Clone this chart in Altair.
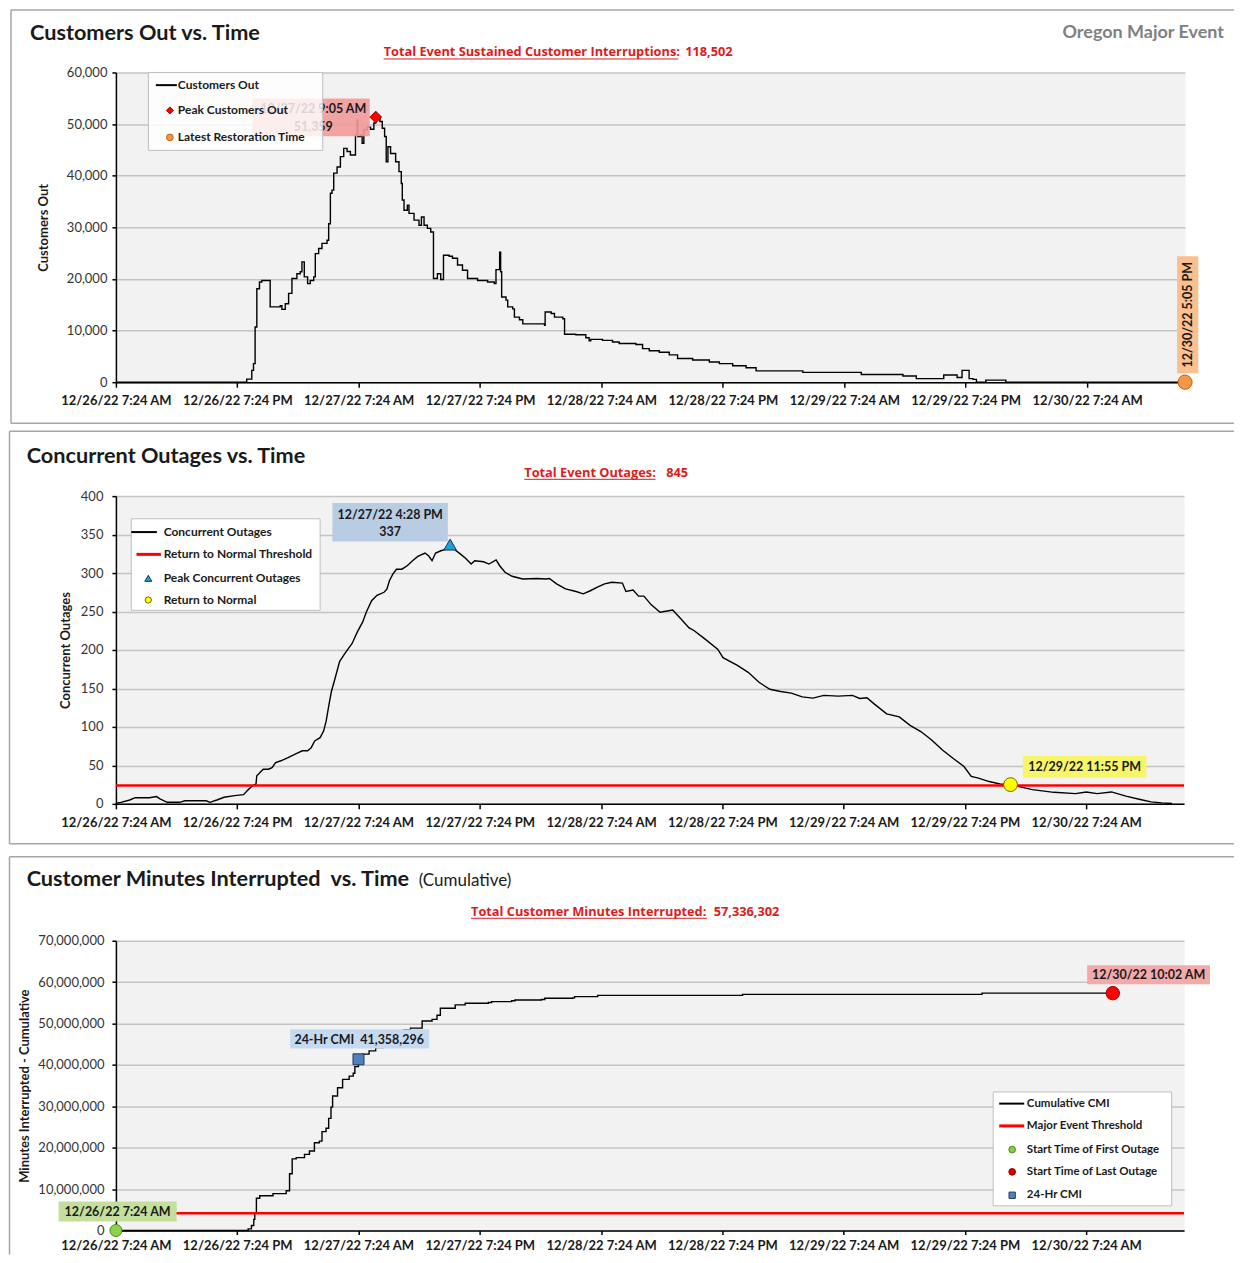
import altair as alt
import pandas as pd

FONT = "Lato"
SUB_FONT = "Open Sans"
SUB_SIZE = 12.8
RED_TEXT = "#dc1c1c"
FRAME = "#a6a6a6"
GRID = "#c4c4c4"
TFMT = "%m/%d/%y %-I:%M %p"
NBSP = "\u00a0"

EVENT_START = "2022-12-26 07:24"
AXIS_END = "2022-12-30 17:05"
TICK_STEP_HOURS = 12
TICK_COUNT = 9

# (hours after 12/26/22 7:24 AM, customers out)
CUSTOMERS_OUT = [
    (0, 0), (12.6, 0), (12.93, 600), (13.43, 2300), (13.6, 3600), (13.76, 10700),
    (13.93, 18100), (14.19, 19400), (14.42, 19700), (15.18, 19700), (15.25, 14600),
    (16.24, 14800), (16.41, 14100), (16.74, 15200), (17.07, 17200), (17.4, 20100),
    (17.89, 21000), (18.22, 21400), (18.39, 23300), (18.62, 20400), (18.95, 19100),
    (19.21, 19700), (19.55, 20400), (19.71, 24900), (20.04, 25900), (20.37, 26900),
    (20.87, 27500), (21.03, 30700), (21.2, 36600), (21.36, 37200), (21.53, 40500),
    (21.86, 41700), (22.19, 43700), (22.52, 45300), (22.85, 44700), (23.18, 44000),
    (23.58, 44000), (23.68, 47900), (23.85, 50800), (23.91, 47600), (24.18, 47900),
    (24.34, 46300), (24.51, 48900), (24.84, 49400), (25.17, 49000), (25.5, 50200),
    (25.68, 51359), (26.1, 50500), (26.33, 49200), (26.56, 47600), (26.72, 42700),
    (26.89, 45600), (27.15, 44300), (27.65, 42700), (27.98, 40800), (28.21, 38500),
    (28.31, 35300), (28.48, 33300), (28.81, 34300), (28.97, 32700), (29.47, 31400),
    (29.96, 30400), (30.2, 32000), (30.46, 30400), (30.79, 29800), (31.12, 29100),
    (31.39, 20100), (31.78, 21000), (32.11, 19900), (32.38, 24600), (32.94, 24400),
    (33.27, 24000), (33.77, 22700), (34.26, 21700), (34.76, 20100), (35.75, 19700),
    (36.74, 19400), (37.4, 19100), (37.57, 21800), (37.93, 25200), (38.03, 21400),
    (38.13, 16500), (38.56, 15900), (38.73, 14600), (39.22, 14200), (39.39, 12600),
    (39.89, 12100), (40.22, 11300), (42.37, 11000), (42.43, 13600), (43.03, 13300),
    (43.35, 12600), (44.18, 12300), (44.35, 9300), (45.46, 9200), (46.45, 8600),
    (46.78, 8000), (46.94, 8300), (48.1, 8100), (49.09, 7800), (49.75, 7500),
    (51.4, 7300), (52.06, 6500), (52.72, 6100), (53.71, 5800), (54.7, 5300),
    (55.52, 4600), (57.01, 4300), (58.66, 3900), (59.65, 3600), (60.97, 3200),
    (62.29, 2800), (63.28, 2200), (67.9, 1900), (73.68, 1500), (77.8, 1200),
    (79.12, 700), (81.83, 1400), (83.15, 900), (83.64, 2300), (84.34, 700),
    (84.73, 550), (85.06, 0), (85.99, 400), (87.97, 0), (105.68, 0),
]

# (hours after 12/26/22 7:24 AM, concurrent outages)
CONCURRENT_OUTAGES = [
    (0, 0), (0.07, 1), (0.49, 2), (1.37, 5), (1.9, 8), (3.31, 8), (4.01, 9.5), (4.36, 6.5),
    (5.07, 2), (6.3, 2), (6.83, 4), (8.94, 4), (9.29, 2), (9.99, 5), (10.7, 8.6),
    (11.75, 10.7), (12.63, 12), (12.99, 17), (13.51, 23.6), (13.86, 25.8), (13.94, 36.5),
    (14.57, 45), (15.1, 45), (15.45, 47), (15.8, 53.7), (16.33, 56), (17.03, 60),
    (17.74, 64.5), (18.44, 69), (18.97, 69), (19.32, 73), (19.67, 81.7), (20.2, 86),
    (20.55, 94.6), (20.8, 107.5), (21.08, 129), (21.32, 146), (21.68, 163), (22.13, 185),
    (22.66, 195.6), (23.37, 208.5), (23.89, 223.5), (24.42, 236.5), (24.77, 249),
    (25.3, 264), (25.83, 271), (26.53, 275), (26.81, 279), (27.06, 290), (27.41, 299),
    (27.76, 305), (28.29, 305), (28.82, 309.5), (29.35, 316), (29.87, 321.6),
    (30.58, 326), (30.93, 322.4), (31.28, 316), (31.63, 326), (32.16, 329), (32.69, 331),
    (33.07, 337), (33.57, 330), (34.1, 324.6), (34.62, 319), (35.15, 311.7), (35.5, 316),
    (36.38, 314.7), (36.91, 311.7), (37.62, 317), (37.97, 309.5), (38.5, 301),
    (39.2, 295.8), (40.25, 292.3), (41.66, 293), (42.54, 292.3), (42.89, 293),
    (43.6, 286), (44.48, 279.4), (45.53, 276), (46.24, 273), (46.94, 277), (47.64, 281.6),
    (48.35, 286), (49.05, 288), (50.11, 287), (50.46, 276), (51.17, 278), (51.71, 270),
    (52.24, 270), (52.95, 259), (53.84, 249), (55.09, 252), (55.8, 242), (56.69, 229),
    (57.22, 225), (58.11, 216), (59.54, 201), (60.07, 190), (61.49, 180), (62.56, 171),
    (63.63, 158), (64.7, 149), (65.77, 146), (66.83, 144), (67.9, 139), (68.97, 137.5),
    (70.04, 141), (71.46, 140), (72.88, 141), (73.59, 137), (74.31, 138), (75.02, 130),
    (76.26, 117), (77.51, 113), (78.58, 102), (79.64, 94), (80.71, 83), (81.78, 70),
    (82.85, 59), (83.91, 48.6), (84.63, 35.7), (85.34, 33.5), (86.41, 29), (87.47, 25.8),
    (88.52, 25), (89.25, 22.8), (90.68, 18.5), (92.81, 15), (94.95, 13.3), (96.01, 15.5),
    (97.08, 13.3), (98.5, 15.5), (99.93, 10), (101.35, 5.6), (102.42, 2.6),
    (103.49, 1.3), (104.5, 0.5),
]

# (hours after 12/26/22 7:24 AM, cumulative customer minutes interrupted)
CUMULATIVE_CMI = [
    (0, 0), (12.75, 0), (13.08, 400000), (13.41, 1200000), (13.64, 2700000),
    (13.74, 4300000), (13.9, 7800000), (14.23, 8400000), (15.54, 8900000),
    (16.85, 9600000), (17.18, 13700000), (17.44, 17300000), (17.84, 17600000),
    (18.66, 18400000), (19.15, 19200000), (19.64, 21200000), (20.13, 21600000),
    (20.39, 23900000), (20.79, 24700000), (21.05, 27100000), (21.28, 29800000),
    (21.44, 32500000), (21.93, 34500000), (22.43, 36500000), (23.08, 37300000),
    (23.48, 38000000), (23.64, 39600000), (24.0, 41358296), (24.39, 42600000),
    (25.05, 43400000), (25.7, 44200000), (26.5, 45500000), (27.5, 47000000),
    (28.5, 48500000), (29.15, 48900000), (30.3, 50600000), (31.28, 51000000),
    (31.77, 52000000), (32.1, 53700000), (33.57, 54500000), (34.56, 54900000),
    (36.85, 55100000), (37.18, 55300000), (39.15, 55500000), (39.48, 55700000),
    (42.1, 55800000), (42.43, 56100000), (45.21, 56200000), (45.38, 56500000),
    (47.67, 56800000), (62.0, 57050000), (85.7, 57336302), (98.63, 57336302),
]

PEAK_CUSTOMERS = {"time": "2022-12-27 09:05", "value": 51359}
LATEST_RESTORATION = {"time": "2022-12-30 17:05", "value": 0}
PEAK_CONCURRENT = {"time": "2022-12-27 16:28", "value": 337}
RETURN_TO_NORMAL = {"time": "2022-12-29 23:55", "value": 25}
RETURN_THRESHOLD = 24
FIRST_OUTAGE = {"time": "2022-12-26 07:24", "value": 0}
LAST_OUTAGE = {"time": "2022-12-30 10:02", "value": 57336302}
CMI_24HR = {"time": "2022-12-27 07:24", "value": 41358296}
MAJOR_EVENT_THRESHOLD = 4160000

TOTAL_SCI = 118502
TOTAL_OUTAGES = 845
TOTAL_CMI = 57336302

T0 = pd.Timestamp(EVENT_START)


def iso(ts):
    return pd.Timestamp(ts).strftime("%Y-%m-%dT%H:%M:%S")


def dt(ts):
    ts = pd.Timestamp(ts)
    return alt.DateTime(year=ts.year, month=ts.month, date=ts.day, hours=ts.hour, minutes=ts.minute)


def series_df(pairs):
    return pd.DataFrame({
        "t": [iso(T0 + pd.Timedelta(hours=h)) for h, _ in pairs],
        "v": [v for _, v in pairs],
    })


def point_df(p, label=""):
    return pd.DataFrame({"t": [iso(p["time"])], "v": [p["value"]], "label": [label]})


def one():
    return alt.Chart(pd.DataFrame({"k": [0]}))


def box(x1, y1, x2, y2, **kw):
    return one().mark_rect(**kw).encode(x=alt.value(x1), x2=alt.value(x2), y=alt.value(y1), y2=alt.value(y2))


def hline(x1, x2, y, color, width):
    return one().mark_rule(color=color, strokeWidth=width).encode(x=alt.value(x1), x2=alt.value(x2), y=alt.value(y))


def vline(x, y1, y2, color, width):
    return one().mark_rule(color=color, strokeWidth=width).encode(x=alt.value(x), y=alt.value(y1), y2=alt.value(y2))


def label(x, y, s, size=12, weight="bold", color="#1a1a1a", align="left", baseline="alphabetic", font=FONT):
    return one().mark_text(text=s, font=font, fontSize=size, fontWeight=weight, color=color,
                           align=align, baseline=baseline).encode(x=alt.value(x), y=alt.value(y))


def sym(x, y, shape, size, fill, stroke, sw=1):
    return one().mark_point(shape=shape, size=size, filled=True, fill=fill, stroke=stroke,
                            strokeWidth=sw, opacity=1).encode(x=alt.value(x), y=alt.value(y))


def x_enc(label_pad, tick=5):
    ticks = [dt(T0 + pd.Timedelta(hours=TICK_STEP_HOURS * i)) for i in range(TICK_COUNT)]
    return alt.X("t:T", title=None,
                 scale=alt.Scale(domain=[dt(EVENT_START), dt(AXIS_END)], nice=False),
                 axis=alt.Axis(values=ticks, format=TFMT, labelFont=FONT, labelFontSize=13,
                               labelFontWeight="bold", labelColor="#1a1a1a", labelFlush=False,
                               labelOverlap=False, labelBound=False, labelPadding=label_pad,
                               tickSize=tick, tickColor="#000", tickWidth=1.5,
                               domainColor="#000", domainWidth=1.5, grid=False))


def y_enc(vmax, step, title, label_pad, title_pad):
    return alt.Y("v:Q", title=title, scale=alt.Scale(domain=[0, vmax], nice=False),
                 axis=alt.Axis(values=list(range(0, vmax + 1, step)), format=",.0f",
                               labelOverlap=False, labelFont=FONT, labelFontSize=13, labelColor="#333",
                               labelPadding=label_pad, tickSize=4, tickColor="#000", tickWidth=1.5,
                               domainColor="#000", domainWidth=1.5, gridColor=GRID, gridWidth=1.5,
                               titleFont=FONT, titleFontSize=13, titleFontWeight="bold",
                               titleColor="#1a1a1a", titlePadding=title_pad))


def threshold(value, Y):
    return alt.Chart(pd.DataFrame({"v": [value]})).mark_rule(color="#ff0000", strokeWidth=2.5).encode(y=Y)


def anno_box(df, X, Y, fill, x1, x2, y1, y2, opacity=1.0):
    return alt.Chart(df).mark_rect(fill=fill, opacity=opacity, xOffset=x1, x2Offset=x2,
                                   yOffset=y1, y2Offset=y2).encode(
        x=X, x2=alt.X2("t"), y=Y, y2=alt.Y2("v"))


def anno_text(df, X, Y, text, dx, dy, color="#1a1a1a", angle=0, size=12.5):
    return alt.Chart(df).mark_text(font=FONT, fontSize=size, fontWeight="bold", color=color,
                                   align="center", baseline="middle", angle=angle,
                                   xOffset=dx, yOffset=dy).encode(x=X, y=Y, text=text)


def marker(df, X, Y, shape, size, fill, stroke):
    return alt.Chart(df).mark_point(shape=shape, size=size, filled=True, fill=fill, stroke=stroke,
                                    strokeWidth=1, opacity=1).encode(x=X, y=Y)


TIME_TEXT = alt.Text("t:T", format=TFMT)
VALUE_TEXT = alt.Text("v:Q", format=",")
TITLE_SIZE = 21.7

# ---------------- Panel 1: Customers Out ----------------
X1 = x_enc(7)
Y1 = y_enc(60000, 10000, "Customers Out", 5, 16)
peak_c = point_df(PEAK_CUSTOMERS)
latest = point_df(LATEST_RESTORATION)

p1 = alt.layer(
    box(-107, -63, 1119, 354, opacity=0),
    hline(-105, 1119, -62.5, FRAME, 1.5),
    vline(-105, -62.5, 351, FRAME, 1.5),
    hline(-105, 1119, 351, FRAME, 1.5),
    label(-86, -32, "Customers Out vs. Time", size=TITLE_SIZE),
    label(1109, -34.5, "Oregon Major Event", size=18, color="#808080", align="right"),
    label(268, -16, "Total Event Sustained Customer Interruptions:", size=SUB_SIZE, color=RED_TEXT, font=SUB_FONT),
    hline(268, 563, -13.5, RED_TEXT, 1),
    label(569.7, -16, f"{TOTAL_SCI:,}", size=SUB_SIZE, color=RED_TEXT, font=SUB_FONT),
    alt.Chart(series_df(CUSTOMERS_OUT)).mark_line(color="#000", strokeWidth=1.4,
                                                  interpolate="step-after").encode(x=X1, y=Y1),
    anno_box(peak_c, X1, Y1, "#f19a9a", -123.5, -6, -18.7, 19.3, 0.9),
    anno_text(peak_c, X1, Y1, TIME_TEXT, -62.5, -7.7),
    anno_text(peak_c, X1, Y1, VALUE_TEXT, -62.5, 10),
    marker(peak_c, X1, Y1, "diamond", 140, "#ff0000", "#a00000"),
    anno_box(latest, X1, Y1, "#fac090", -8, 13.3, -126, -9),
    anno_text(latest, X1, Y1, TIME_TEXT, 2.6, -67.5, angle=270),
    marker(latest, X1, Y1, "circle", 200, "#f79646", "#c0600a"),
    box(32.5, 0, 207, 78, fill="white", fillOpacity=0.82, stroke="#bfbfbf", strokeWidth=1),
    hline(40, 61, 12.7, "#000", 2),
    label(62, 12.7, "Customers Out", size=12, baseline="middle"),
    sym(54, 38, "diamond", 49, "#ff0000", "#a00000"),
    label(62, 38, "Peak Customers Out", size=12, baseline="middle"),
    sym(54, 65, "circle", 45, "#f79646", "#c0600a"),
    label(62, 65, "Latest Restoration Time", size=12, baseline="middle"),
).properties(width=1070, height=310)

# ---------------- Panel 2: Concurrent Outages ----------------
X2 = x_enc(8)
Y2 = y_enc(400, 50, "Concurrent Outages", 9, 8)
peak_o = point_df(PEAK_CONCURRENT)
rtn = point_df(RETURN_TO_NORMAL)

p2 = alt.layer(
    box(-107, -70, 1119, 354, opacity=0),
    hline(-106.5, 1119, -65, FRAME, 1.5),
    vline(-106.5, -65, 348, FRAME, 1.5),
    hline(-106.5, 1119, 348, FRAME, 1.5),
    label(-89.3, -33, "Concurrent Outages vs. Time", size=TITLE_SIZE),
    label(408.7, -19.3, "Total Event Outages:", size=SUB_SIZE, color=RED_TEXT, font=SUB_FONT),
    hline(408.7, 540, -16.8, RED_TEXT, 1),
    label(550.7, -19.3, f"{TOTAL_OUTAGES:,}", size=SUB_SIZE, color=RED_TEXT, font=SUB_FONT),
    alt.Chart(series_df(CONCURRENT_OUTAGES)).mark_line(color="#000", strokeWidth=1.4).encode(x=X2, y=Y2),
    threshold(RETURN_THRESHOLD, Y2),
    anno_box(peak_o, X2, Y2, "#b8cce4", -117.8, -2.3, -41.6, -3),
    anno_text(peak_o, X2, Y2, TIME_TEXT, -60, -30),
    anno_text(peak_o, X2, Y2, VALUE_TEXT, -60, -13),
    marker(peak_o, X2, Y2, "triangle-up", 160, "#1f9fe0", "#1b3550"),
    anno_box(rtn, X2, Y2, "#f7f56a", 12.3, 136, -29, -7),
    anno_text(rtn, X2, Y2, TIME_TEXT, 74.2, -18),
    marker(rtn, X2, Y2, "circle", 190, "#ffff00", "#6b6b00"),
    box(15.4, 22.7, 204.4, 114.3, fill="white", stroke="#bfbfbf", strokeWidth=1),
    hline(15.4, 41, 36, "#000", 2),
    label(47.8, 36, "Concurrent Outages", size=12, baseline="middle"),
    hline(20.6, 45, 58.3, "#ff0000", 3),
    label(47.8, 58.3, "Return to Normal Threshold", size=12, baseline="middle"),
    sym(32.4, 82.3, "triangle-up", 49, "#1f9fe0", "#1b3550"),
    label(47.8, 82.3, "Peak Concurrent Outages", size=12, baseline="middle"),
    sym(32.4, 104, "circle", 40, "#ffff00", "#6b6b00"),
    label(47.8, 104, "Return to Normal", size=12, baseline="middle"),
).properties(width=1069, height=308)

# ---------------- Panel 3: Customer Minutes Interrupted ----------------
X3 = x_enc(5, tick=4)
Y3 = y_enc(70000000, 10000000, "Minutes Interrupted - Cumulative", 8, 6)
first = point_df(FIRST_OUTAGE)
last = point_df(LAST_OUTAGE)
cmi24 = point_df(CMI_24HR, f"24-Hr CMI{NBSP}{NBSP}{CMI_24HR['value']:,}")

p3 = alt.layer(
    box(-107, -91, 1119, 314, opacity=0),
    hline(-106.5, 1119, -84, FRAME, 1.5),
    vline(-106.5, -84, 314, FRAME, 1.5),
    label(-89.3, -55, f"Customer Minutes Interrupted{NBSP} vs. Time", size=TITLE_SIZE),
    label(303, -55, "(Cumulative)", size=17, weight="normal"),
    label(355.4, -25, "Total Customer Minutes Interrupted:", size=SUB_SIZE, color=RED_TEXT, font=SUB_FONT),
    hline(355.4, 591.6, -22.5, RED_TEXT, 1),
    label(598.3, -25, f"{TOTAL_CMI:,}", size=SUB_SIZE, color=RED_TEXT, font=SUB_FONT),
    alt.Chart(series_df(CUMULATIVE_CMI)).mark_line(color="#000", strokeWidth=1.4,
                                                   interpolate="step-after").encode(x=X3, y=Y3),
    threshold(MAJOR_EVENT_THRESHOLD, Y3),
    anno_box(cmi24, X3, Y3, "#c5d9f1", -68.3, 70.7, -30, -10.7),
    anno_text(cmi24, X3, Y3, alt.Text("label:N"), 0.7, -19.4),
    marker(cmi24, X3, Y3, "square", 121, "#4f81bd", "#1f3864"),
    anno_box(last, X3, Y3, "#f4aaaa", -25.7, 97.3, -28, -9),
    anno_text(last, X3, Y3, TIME_TEXT, 35.8, -18),
    marker(last, X3, Y3, "circle", 180, "#ff0000", "#a00000"),
    anno_box(first, X3, Y3, "#c4df9b", -57.4, 60.8, -29, -9),
    anno_text(first, X3, Y3, TIME_TEXT, 1.7, -19),
    marker(first, X3, Y3, "circle", 144, "#8fd14f", "#4a8a1c"),
    box(878, 151.3, 1056.6, 265.3, fill="white", stroke="#bfbfbf", strokeWidth=1),
    hline(884, 909, 163, "#000", 2),
    label(911.7, 163, "Cumulative CMI", size=11.5, baseline="middle"),
    hline(884, 909, 185.3, "#ff0000", 3),
    label(911.7, 185.3, "Major Event Threshold", size=11.5, baseline="middle"),
    sym(897, 209, "circle", 45, "#7fd13b", "#4a8a1c"),
    label(911.7, 209, "Start Time of First Outage", size=11.5, baseline="middle"),
    sym(897, 231.3, "circle", 45, "#e00000", "#900000"),
    label(911.7, 231.3, "Start Time of Last Outage", size=11.5, baseline="middle"),
    sym(897, 254.7, "square", 40, "#4f81bd", "#1f3864"),
    label(911.7, 254.7, "24-Hr CMI", size=11.5, baseline="middle"),
).properties(width=1069, height=290)

chart = alt.vconcat(p1, p2, p3, spacing=0).properties(
    padding=0, background="white"
).configure_view(fill="#f2f2f2", strokeOpacity=0)

chart.save("out.html", embed_options={"renderer": "svg", "actions": False})
